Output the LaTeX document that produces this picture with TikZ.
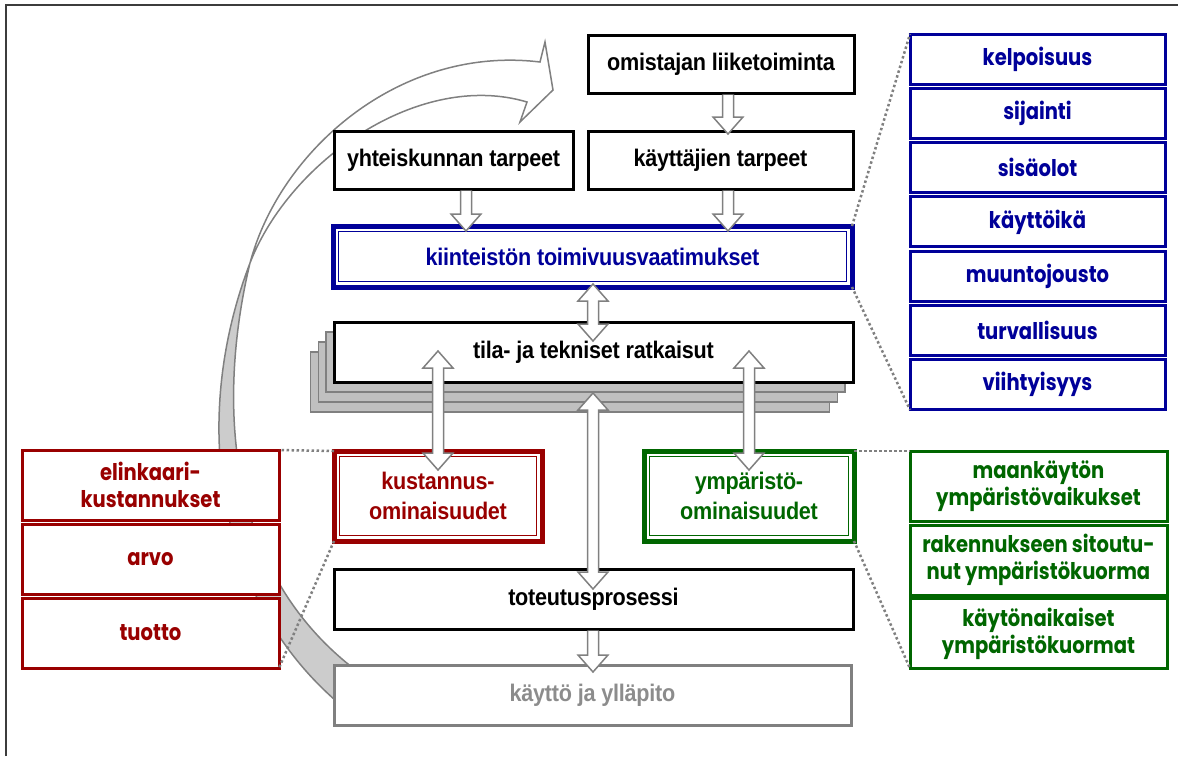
\documentclass[tikz,border=0pt]{standalone}
\usepackage{fontspec}
\usetikzlibrary{calc,backgrounds}
\newfontfamily\arialb{Liberation Sans}[FakeStretch=0.9,LetterSpace=-1]
\newfontfamily\comic{Poppins}[FakeStretch=0.85]
\definecolor{myblue}{RGB}{0,0,153}
\definecolor{myred}{RGB}{153,0,0}
\definecolor{mygreen}{RGB}{0,102,0}
\definecolor{mygrey}{RGB}{128,128,128}
\definecolor{lightgreytext}{RGB}{140,140,140}
\definecolor{bandgrey}{RGB}{204,204,204}
\definecolor{shadowgrey}{RGB}{192,192,192}
\definecolor{framegrey}{RGB}{60,60,60}
\newcommand\bdown[2]{\draw[harrow] ($(#1)+(-5.5,0)$) -- ($(#2)+(-5.5,-17)$) -- ($(#2)+(-15,-17)$) -- (#2) -- ($(#2)+(15,-17)$) -- ($(#2)+(5.5,-17)$) -- ($(#1)+(5.5,0)$);}
\newcommand\bboth[2]{\draw[harrow] (#1) -- ($(#1)+(15,17)$) -- ($(#1)+(5.5,17)$) -- ($(#2)+(5.5,-17)$) -- ($(#2)+(15,-17)$) -- (#2) -- ($(#2)+(-15,-17)$) -- ($(#2)+(-5.5,-17)$) -- ($(#1)+(-5.5,17)$) -- ($(#1)+(-15,17)$) -- cycle;}
\newcommand\innerframe[2]{\draw[line width=1.2, #2] ([shift={(5.5,5.5)}]#1.north west) rectangle ([shift={(-5.5,-5.5)}]#1.south east);}
\begin{document}
\begin{tikzpicture}[x=1pt,y=-1pt,
  box/.style={draw, fill=white, line width=3, inner sep=0, outer sep=0, align=center},
  blackfont/.style={font=\arialb\bfseries\fontsize{24}{30}\selectfont},
  blackbox/.style={box, draw=black, blackfont},
  dblbox/.style={box, line width=5, blackfont},
  listbox/.style={box, minimum width=257, minimum height=70, font=\comic\bfseries\fontsize{23}{27}\selectfont},
  bluebox/.style={listbox, minimum width=255, minimum height=50, draw=myblue, text=myblue},
  redbox/.style={listbox, draw=myred, text=myred},
  greenbox/.style={listbox, draw=mygreen, text=mygreen},
  harrow/.style={draw=mygrey, fill=white, line width=1.5, line join=miter},
  dots/.style={draw=mygrey, line width=2.5, dash pattern=on 2.5pt off 2.5pt},
  shadowbox/.style={draw=mygrey, fill=shadowgrey, line width=1.5},
  band/.style={draw=mygrey, line width=1.5, line join=miter}
]
\useasboundingbox (0,0) rectangle (1178,756);
% frame (top and left only)
\draw[framegrey, line width=2] (6,756) -- (6,5) -- (1178,5);

% curved twisted ribbon arrow
\draw[band, fill=bandgrey] (250,263) .. controls (190,420) and (215,600) .. (342,706)
  -- (353,668) .. controls (215,560) and (222,380) .. (250,263) -- cycle;
\draw[band, fill=white] (250,263) .. controls (280,150) and (400,45) .. (540,62)
  -- (545,42) -- (553,90) -- (520,122) -- (527,102)
  .. controls (420,70) and (290,160) .. (250,263) -- cycle;

% main boxes
\node[blackbox, minimum width=266, minimum height=58] (own) at (721,64) {omistajan liiketoiminta};
\node[blackbox, minimum width=265, minimum height=58] (kay) at (720.5,160) {käyttäjien tarpeet};
\node[blackbox, minimum width=239, minimum height=58] (yht) at (453.5,160) {yhteiskunnan tarpeet};
\node[dblbox, draw=myblue, text=myblue, minimum width=519, minimum height=61] (kii) at (592.5,256.5) {kiinteistön toimivuusvaatimukset};
\innerframe{kii}{myblue}
\node[blackbox, minimum width=519, minimum height=60] (tila) at (593.5,352) {tila- ja tekniset ratkaisut};
\begin{scope}[on background layer]
  \foreach \i in {3,2,1}{
    \draw[shadowbox] ([shift={(-7.8*\i,10*\i)}]tila.north west) rectangle ([shift={(-7.8*\i,10*\i)}]tila.south east);
  }
\end{scope}
\node[dblbox, draw=myred, text=myred, minimum width=208, minimum height=90] (kus) at (438,496) {kustannus-\\ominaisuudet};
\innerframe{kus}{myred}
\node[dblbox, draw=mygreen, text=mygreen, minimum width=210, minimum height=90] (ymp) at (749,496) {ympäristö-\\ominaisuudet};
\innerframe{ymp}{mygreen}
\node[blackbox, minimum width=519, minimum height=60] (tot) at (593.5,599) {toteutusprosessi};
\node[blackbox, draw=mygrey, text=lightgreytext, minimum width=517, minimum height=60] (kyp) at (592.5,695) {käyttö ja ylläpito};

% left red list
\node[redbox] (r1) at (150.5,485) {elinkaari-\\kustannukset};
\node[redbox] (r2) at (150.5,559) {arvo};
\node[redbox] (r3) at (150.5,633) {tuotto};

% right green list
\node[greenbox] (g1) at (1038.5,486) {maankäytön\\ympäristövaikukset};
\node[greenbox] (g2) at (1038.5,560) {rakennukseen sitoutu-\\nut ympäristökuorma};
\node[greenbox] (g3) at (1038.5,633.5) {käytönaikaiset\\ympäristökuormat};

% right blue list
\node[bluebox] (b1) at (1037.5,59) {kelpoisuus};
\node[bluebox] (b2) at (1037.5,113.3) {sijainti};
\node[bluebox] (b3) at (1037.5,167.6) {sisäolot};
\node[bluebox] (b4) at (1037.5,221.9) {käyttöikä};
\node[bluebox] (b5) at (1037.5,276.2) {muuntojousto};
\node[bluebox] (b6) at (1037.5,330.5) {turvallisuus};
\node[bluebox] (b7) at (1037.5,384.8) {viihtyisyys};

% dotted zoom lines
\draw[dots] (kii.north east) -- (b1.north west);
\draw[dots] (kii.south east) -- (b7.south west);
\draw[dots] (kus.north west) -- (r1.north east);
\draw[dots] (kus.south west) -- (r3.south east);
\draw[dots] (ymp.north east) -- (g1.north west);
\draw[dots] (ymp.south east) -- (g3.south west);

% hollow block arrows
\coordinate (a1s) at ($(own.south)+(7,1.5)$);
\coordinate (a1t) at ($(kay.north)+(7.5,3)$);
\coordinate (a2s) at ($(kay.south)+(7.5,1.5)$);
\coordinate (a2t) at ($(kii.north)+(135.5,5)$);
\coordinate (a3s) at ($(yht.south)+(12.5,1.5)$);
\coordinate (a3t) at ($(kii.north)+(-126.5,5)$);
\coordinate (a4a) at ($(kii.south)+(0.5,-3)$);
\coordinate (a4b) at ($(tila.north)+(-0.5,19)$);
\coordinate (a5a) at ($(tila.north)+(-155.5,29)$);
\coordinate (a5b) at ($(kus.north)+(0,19)$);
\coordinate (a6a) at ($(tila.north)+(155.5,29)$);
\coordinate (a6b) at ($(ymp.north)+(0,19)$);
\coordinate (a7a) at ($(tila.south)+(-0.5,11)$);
\coordinate (a7b) at ($(tot.north)+(-0.5,20)$);
\coordinate (a8s) at ($(tot.south)+(-0.5,1.5)$);
\coordinate (a8t) at ($(kyp.north)+(0.5,7)$);
\bdown{a1s}{a1t}
\bdown{a2s}{a2t}
\bdown{a3s}{a3t}
\bboth{a4a}{a4b}
\bboth{a5a}{a5b}
\bboth{a6a}{a6b}
\bboth{a7a}{a7b}
\bdown{a8s}{a8t}
\end{tikzpicture}
\end{document}
